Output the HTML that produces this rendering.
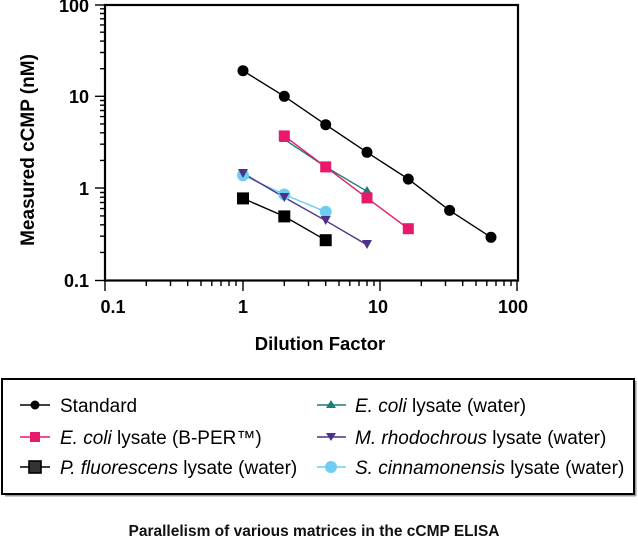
<!DOCTYPE html>
<html><head><meta charset="utf-8"><style>
body{margin:0;background:#fff;width:638px;height:540px;overflow:hidden}
svg{display:block}
</style></head><body>
<svg width="638" height="540" viewBox="0 0 638 540" font-family="Liberation Sans, Arial, sans-serif">
<rect x="105" y="5" width="413" height="275.5" stroke="#000" stroke-width="2.2" fill="none"/>
<g stroke="#000" stroke-width="1.4">
<line x1="95" y1="5" x2="105" y2="5"/><line x1="95" y1="96.3" x2="105" y2="96.3"/><line x1="95" y1="188" x2="105" y2="188"/><line x1="95" y1="280.5" x2="105" y2="280.5"/>
<path d="M100 252.4H105M100 236.2H105M100 224.8H105M100 215.9H105M100 208.6H105M100 202.5H105M100 197.2H105M100 192.5H105
M100 160.4H105M100 144.2H105M100 132.8H105M100 123.9H105M100 116.6H105M100 110.5H105M100 105.2H105M100 100.5H105
M100 68.7H105M100 52.5H105M100 41.1H105M100 32.2H105M100 24.9H105M100 18.8H105M100 13.5H105M100 8.8H105"/>
<line x1="105" y1="280" x2="105" y2="291"/><line x1="243" y1="280" x2="243" y2="291"/><line x1="380" y1="280" x2="380" y2="291"/><line x1="517" y1="280" x2="517" y2="291"/>
<path d="M146.3 280V286M170.5 280V286M187.7 280V286M201 280V286M211.8 280V286M221 280V286M229 280V286M236 280V286
M284.3 280V286M308.5 280V286M325.7 280V286M339 280V286M349.8 280V286M359 280V286M367 280V286M374 280V286
M421.3 280V286M445.5 280V286M462.7 280V286M476 280V286M486.8 280V286M496 280V286M504 280V286M511 280V286"/>
</g>
<g font-weight="bold" font-size="18" fill="#000" text-anchor="end">
<text x="89" y="12">100</text><text x="89" y="103">10</text><text x="89" y="195">1</text><text x="89" y="287">0.1</text>
</g>
<g font-weight="bold" font-size="18" fill="#000" text-anchor="middle">
<text x="113" y="313">0.1</text><text x="243" y="313">1</text><text x="378" y="313">10</text><text x="513" y="313">100</text>
<text x="320" y="350" font-size="18.5">Dilution Factor</text>
<text transform="translate(34,150) rotate(-90)" font-size="19">Measured cCMP (nM)</text>
</g>
<g fill="none" stroke-width="1.4">
<polyline stroke="#000" points="243,70.7 284.3,96.3 325.7,124.7 367,152.3 408.3,179.1 449.6,210.4 491,237.3"/>
<polyline stroke="#1a7f7a" points="284.3,139.3 325.7,166.9 367,191.3"/>
<polyline stroke="#e8196b" points="284.3,135.9 325.7,166.9 367,197.9 408.3,228.7"/>
<polyline stroke="#6dcdf2" points="243,175.2 284.3,194.5 325.7,211.8"/>
<polyline stroke="#4b3289" points="243,173.2 284.3,197.4 325.7,220.7 367,244.9"/>
<polyline stroke="#000" points="243,198.4 284.3,216.4 325.7,240.2"/>
</g>
<g fill="#000">
<circle cx="243" cy="70.7" r="5.5"/><circle cx="284.3" cy="96.3" r="5.5"/><circle cx="325.7" cy="124.7" r="5.5"/><circle cx="367" cy="152.3" r="5.5"/><circle cx="408.3" cy="179.1" r="5.5"/><circle cx="449.6" cy="210.4" r="5.5"/><circle cx="491" cy="237.3" r="5.5"/>
</g>
<g fill="#1a7f7a"><path d="M284.3 134l5 8h-10z"/><path d="M325.7 162l5 8h-10z"/><path d="M367 186l5 8h-10z"/></g>
<g fill="#e8196b"><rect x="278.8" y="130.4" width="11" height="11"/><rect x="320.2" y="161.4" width="11" height="11"/><rect x="361.5" y="192.4" width="11" height="11"/><rect x="402.8" y="223.2" width="11" height="11"/></g>
<g fill="#6dcdf2"><circle cx="243" cy="175.2" r="6"/><circle cx="284.3" cy="194.5" r="6"/><circle cx="325.7" cy="211.8" r="6"/></g>
<g fill="#4b3289"><path d="M238 169h10l-5 9z"/><path d="M279.3 193h10l-5 9z"/><path d="M320.7 216h10l-5 9z"/><path d="M362 240h10l-5 9z"/></g>
<g fill="#000"><rect x="237" y="192.4" width="12" height="12"/><rect x="278.3" y="210.4" width="12" height="12"/><rect x="319.7" y="234.2" width="12" height="12"/></g>
<!-- legend -->
<line x1="5" y1="495.5" x2="636" y2="495.5" stroke="#999" stroke-width="2"/>
<line x1="635.5" y1="381" x2="635.5" y2="496" stroke="#999" stroke-width="2"/>
<rect x="2" y="379" width="632" height="115" fill="#fff" stroke="#000" stroke-width="2"/>
<g stroke-width="1.6">
<line x1="20" y1="405" x2="50" y2="405" stroke="#000"/><circle cx="35" cy="405" r="4.5"/>
<line x1="20" y1="437" x2="50" y2="437" stroke="#e8196b"/><rect x="30" y="432" width="10" height="10" fill="#e8196b"/>
<line x1="20" y1="467" x2="50" y2="467" stroke="#000"/><rect x="29" y="461" width="12" height="12" fill="#333" stroke="#000"/>
<line x1="317" y1="405" x2="346" y2="405" stroke="#1a7f7a"/><path d="M331 400l5 8h-10z" fill="#1a7f7a"/>
<line x1="317" y1="437" x2="346" y2="437" stroke="#4b3289"/><path d="M326 433h10l-5 8z" fill="#4b3289"/>
<line x1="317" y1="467" x2="346" y2="467" stroke="#6dcdf2"/><circle cx="331" cy="467" r="6" fill="#6dcdf2"/>
</g>
<g font-size="19" fill="#000">
<text x="60" y="412">Standard</text>
<text x="60" y="444"><tspan font-style="italic">E. coli</tspan> lysate (B-PER™)</text>
<text x="60" y="474"><tspan font-style="italic">P. fluorescens</tspan> lysate (water)</text>
<text x="355" y="412"><tspan font-style="italic">E. coli</tspan> lysate (water)</text>
<text x="355" y="444"><tspan font-style="italic">M. rhodochrous</tspan> lysate (water)</text>
<text x="355" y="474"><tspan font-style="italic">S. cinnamonensis</tspan> lysate (water)</text>
</g>
<text x="314" y="536" font-size="15.5" font-weight="bold" text-anchor="middle" fill="#111">Parallelism of various matrices in the cCMP ELISA</text>
</svg>
</body></html>
